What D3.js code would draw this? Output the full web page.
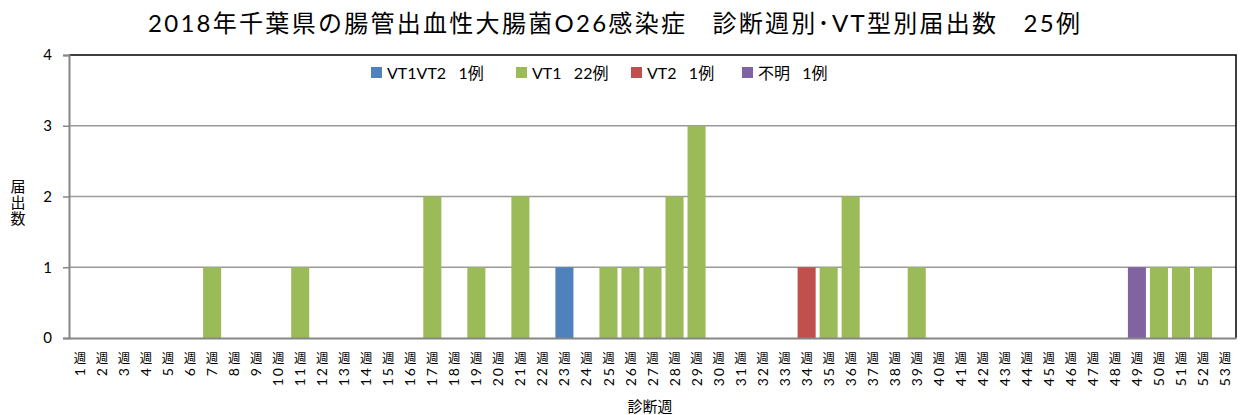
<!DOCTYPE html>
<html lang="ja">
	<head>
		<meta charset="utf-8">
		<title>2018 O26</title>
		<script src="https://cdn.jsdelivr.net/npm/d3@7"></script>
		<style type="text/css">
			body {
				margin: 0;
				background: #ffffff;
			}
			text {
				font-family: Lato, "Noto Sans CJK JP", sans-serif;
				fill: #000000;
			}
		</style>
	</head>
	<body>
		<script type="text/javascript">
			//Categories: diagnosis week 1..53
			var weeks = ["1","2","3","4","5","6","7","8","9","10","11","12","13","14","15","16","17","18","19","20",
						 "21","22","23","24","25","26","27","28","29","30","31","32","33","34","35","36","37","38","39","40",
						 "41","42","43","44","45","46","47","48","49","50","51","52","53"];

			//Series values, one per week
			var vt1vt2 = [0,0,0,0,0,0,0,0,0,0, 0,0,0,0,0,0,0,0,0,0, 0,0,1,0,0,0,0,0,0,0, 0,0,0,0,0,0,0,0,0,0, 0,0,0,0,0,0,0,0,0,0, 0,0,0];
			var vt1    = [0,0,0,0,0,0,1,0,0,0, 1,0,0,0,0,0,2,0,1,0, 2,0,0,0,1,1,1,2,3,0, 0,0,0,0,1,2,0,0,1,0, 0,0,0,0,0,0,0,0,0,1, 1,1,0];
			var vt2    = [0,0,0,0,0,0,0,0,0,0, 0,0,0,0,0,0,0,0,0,0, 0,0,0,0,0,0,0,0,0,0, 0,0,0,1,0,0,0,0,0,0, 0,0,0,0,0,0,0,0,0,0, 0,0,0];
			var fumei  = [0,0,0,0,0,0,0,0,0,0, 0,0,0,0,0,0,0,0,0,0, 0,0,0,0,0,0,0,0,0,0, 0,0,0,0,0,0,0,0,0,0, 0,0,0,0,0,0,0,0,1,0, 0,0,0];

			var seriesKeys = ["VT1VT2", "VT1", "VT2", "不明"];
			var seriesLabels = ["VT1VT2\u00a0\u00a0\u00a01例", "VT1\u00a0\u00a0\u00a022例", "VT2\u00a0\u00a0\u00a01例", "不明\u00a0\u00a0\u00a01例"];
			var seriesColors = ["#4f81bd", "#9bbb59", "#c0504d", "#8064a2"];
			var yTicks = [0, 1, 2, 3, 4];

			var titleText = "2018年千葉県の腸管出血性大腸菌O26感染症\u00a0\u00a0\u00a0診断週別･VT型別届出数\u00a0\u00a0\u00a025例";

			//Width and height
			var w = 1243;
			var h = 415;
			var plotLeft = 69, plotRight = 1236, plotTop = 55, plotBottom = 338;

			//Build table for stacking
			var table = weeks.map(function(wk, i) {
				return { week: wk, "VT1VT2": vt1vt2[i], "VT1": vt1[i], "VT2": vt2[i], "不明": fumei[i] };
			});
			var stacked = d3.stack().keys(seriesKeys)(table);

			//Scales
			var xScale = d3.scaleBand()
						   .domain(weeks)
						   .range([plotLeft, plotRight])
						   .paddingInner(0.18)
						   .paddingOuter(0.09);
			var yScale = d3.scaleLinear()
						   .domain([0, 4])
						   .range([plotBottom, plotTop]);
			var color = d3.scaleOrdinal()
						  .domain(seriesKeys)
						  .range(seriesColors);

			//SVG
			var svg = d3.select("body")
						.append("svg")
						.attr("width", w)
						.attr("height", h);

			//Title
			svg.append("text")
			   .attr("x", 614)
			   .attr("y", 32)
			   .attr("text-anchor", "middle")
			   .attr("textLength", 932)
			   .attr("lengthAdjust", "spacing")
			   .style("font-size", "24px")
			   .text(titleText);

			//Gridlines
			svg.append("g")
			   .selectAll("line")
			   .data(yTicks.filter(function(d) { return d > 0 && d < 4; }))
			   .enter()
			   .append("line")
			   .attr("x1", plotLeft)
			   .attr("x2", plotRight)
			   .attr("y1", function(d) { return yScale(d); })
			   .attr("y2", function(d) { return yScale(d); })
			   .attr("stroke", "#9a9a9a")
			   .attr("stroke-width", 1.5);

			//Top and right border
			svg.append("path")
			   .attr("d", "M" + plotLeft + "," + yScale(4) + "H" + plotRight + "V" + plotBottom)
			   .attr("fill", "none")
			   .attr("stroke", "#000000")
			   .attr("stroke-width", 1.5);

			//Bars
			svg.append("g")
			   .selectAll("g")
			   .data(stacked)
			   .enter()
			   .append("g")
			   .attr("fill", function(d) { return color(d.key); })
			   .selectAll("rect")
			   .data(function(d) { return d.filter(function(p) { return p[1] > p[0]; }); })
			   .enter()
			   .append("rect")
			   .attr("x", function(d) { return xScale(d.data.week); })
			   .attr("width", xScale.bandwidth())
			   .attr("y", function(d) { return yScale(d[1]); })
			   .attr("height", function(d) { return yScale(d[0]) - yScale(d[1]); });

			//Y axis
			var yAxis = d3.axisLeft(yScale)
						  .tickValues(yTicks)
						  .tickFormat(d3.format("d"))
						  .tickSize(6)
						  .tickPadding(11);
			var gy = svg.append("g")
						.attr("transform", "translate(" + plotLeft + ",0)")
						.call(yAxis);
			gy.select(".domain").attr("stroke", "#868686").attr("stroke-width", 2);
			gy.selectAll(".tick line").attr("stroke", "#868686").attr("stroke-width", 1.5);
			gy.selectAll(".tick text")
			  .style("font-size", "15px")
			  .style("font-family", "Lato, 'Noto Sans CJK JP', sans-serif")
			  .attr("fill", "#000");

			//X axis (labels drawn per tick)
			var xAxis = d3.axisBottom(xScale)
						  .tickSize(0)
						  .tickFormat("");
			var gx = svg.append("g")
						.attr("transform", "translate(0," + plotBottom + ")")
						.call(xAxis);
			gx.select(".domain").attr("stroke", "#868686").attr("stroke-width", 2);

			gx.selectAll(".tick")
			  .append("text")
			  .attr("y", 25)
			  .attr("text-anchor", "middle")
			  .style("font-size", "12.5px")
			  .style("font-family", "'Noto Sans CJK JP', sans-serif")
			  .text("週");
			gx.selectAll(".tick")
			  .append("text")
			  .attr("transform", "translate(0,28) rotate(-90)")
			  .attr("text-anchor", "end")
			  .attr("dy", "0.36em")
			  .style("font-size", "14px")
			  .style("letter-spacing", "2px")
			  .text(function(d) { return d; });

			//Axis titles
			svg.append("text")
			   .attr("x", 650)
			   .attr("y", 412)
			   .attr("text-anchor", "middle")
			   .style("font-size", "15px")
			   .text("診断週");

			svg.append("g")
			   .selectAll("text")
			   .data(["届", "出", "数"])
			   .enter()
			   .append("text")
			   .attr("x", 18)
			   .attr("y", function(d, i) { return 192 + i * 16; })
			   .attr("text-anchor", "middle")
			   .style("font-size", "15px")
			   .text(function(d) { return d; });

			//Legend
			var legendX = [371, 516, 631, 742];
			var legend = svg.append("g")
							.selectAll("g")
							.data(seriesKeys)
							.enter()
							.append("g")
							.attr("transform", function(d, i) { return "translate(" + legendX[i] + ",73)"; });
			legend.append("rect")
				  .attr("x", 0)
				  .attr("y", -6)
				  .attr("width", 11)
				  .attr("height", 11)
				  .attr("fill", function(d) { return color(d); });
			legend.append("text")
				  .attr("x", 16)
				  .attr("y", 0)
				  .attr("dy", "0.36em")
				  .style("font-size", "16px")
				  .text(function(d, i) { return seriesLabels[i]; });
		</script>
	</body>
</html>
